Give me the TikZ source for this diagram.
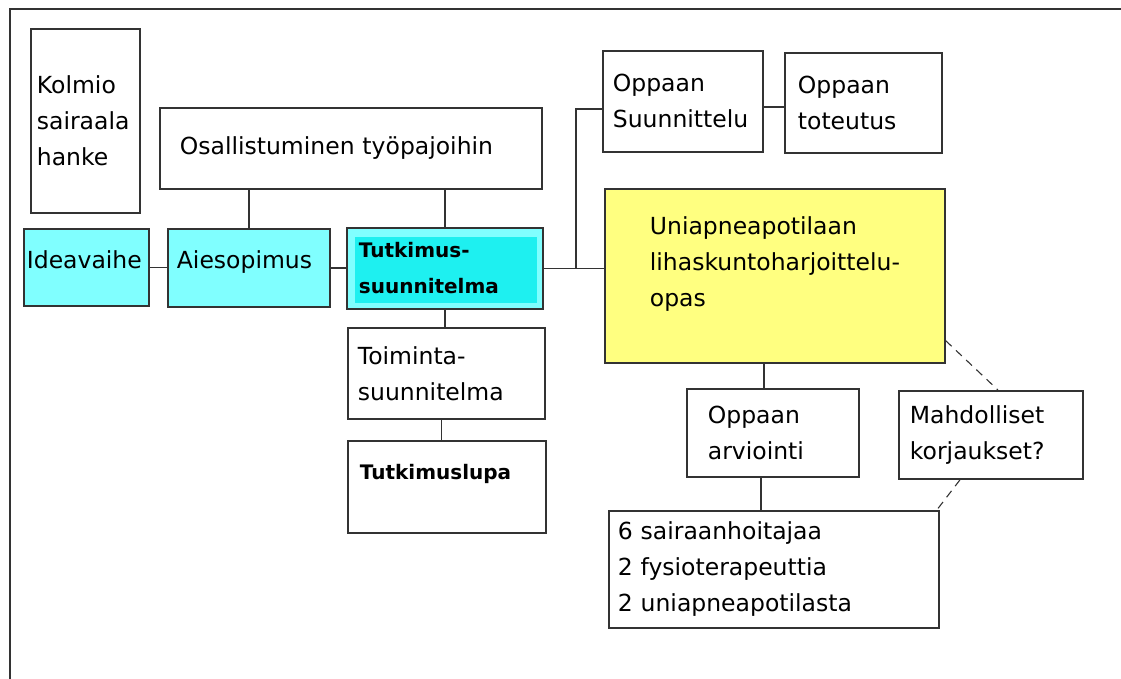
\documentclass[tikz,border=0pt]{standalone}
\usepackage{fontspec}
\setmainfont{DejaVu Sans}
\usetikzlibrary{positioning,calc}
\definecolor{LightCyan}{HTML}{80FFFF}
\definecolor{DeepCyan}{HTML}{1EF0F0}
\definecolor{PaleYellow}{HTML}{FFFF80}
\definecolor{LineGray}{HTML}{333333}
\hyphenpenalty=10000
\exhyphenpenalty=10000
% empty last line that lifts the text inside its box
\newcommand{\liftby}[1]{\\[-#1]\mbox{}}

\begin{document}
\begin{tikzpicture}[
  x=1pt, y=-1pt,
  blk/.style={draw=LineGray, line width=1.8pt, anchor=north west,
              inner xsep=0pt, inner ysep=0pt, align=left,
              font=\fontsize{23.5}{36}\selectfont},
  heavy/.style={font=\fontsize{20}{36}\selectfont\bfseries},
  lnk/.style={draw=LineGray, line width=1.8pt},
  dsh/.style={draw=LineGray, line width=1.1pt, dash pattern=on 8pt off 6pt}
]
\useasboundingbox (0,0) rectangle (1121,679);
\draw[line width=2.2pt, draw=LineGray] (10,679) -- (10,9) -- (1121,9);

\node[blk, minimum width=109pt, minimum height=184pt, text width=97pt]  (kolmio) at (30,28)   {Kolmio\\sairaala\\hanke};
\node[blk, minimum width=382pt, minimum height=81pt,  text width=342pt] (osall)  at (159,107) {Osallistuminen työpajoihin};
\node[blk, fill=LightCyan, minimum width=125pt, minimum height=77pt, text width=119pt] (idea) at (23,228) {Ideavaihe\liftby{21pt}};
\node[blk, fill=LightCyan, minimum width=162pt, minimum height=78pt, text width=144pt] (aies) at (167,228) {Aiesopimus\liftby{19pt}};
\node[blk, heavy, fill=LightCyan, minimum width=196pt, minimum height=81pt, text width=172pt,
      path picture={\fill[DeepCyan] ([shift={(8pt,-9pt)}]path picture bounding box.north west)
        rectangle ([shift={(-6pt,6pt)}]path picture bounding box.south east);}]
      (tutsu) at (346,227) {Tutkimus-\\suunnitelma};
\node[blk, minimum width=197pt, minimum height=91pt,  text width=177pt] (toim)   at (347,327) {Toiminta-\\suunnitelma};
\node[blk, heavy, minimum width=198pt, minimum height=92pt, text width=174pt] (lupa) at (347,440) {Tutkimuslupa\liftby{5pt}};

\node[blk, minimum width=160pt, minimum height=101pt, text width=140pt] (osuun)  at (602,50)  {Oppaan\\Suunnittelu};
\node[blk, minimum width=157pt, minimum height=100pt, text width=131pt] (otot)   at (784,52)  {Oppaan\\toteutus};
\node[blk, fill=PaleYellow, minimum width=340pt, minimum height=174pt, text width=250pt] (opas) at (604,188)
      {Uniapneapotilaan\\lihaskuntoharjoittelu-\\opas\liftby{7pt}};
\node[blk, minimum width=172pt, minimum height=88pt,  text width=130pt] (arv)    at (686,388) {Oppaan\\arviointi};
\node[blk, minimum width=184pt, minimum height=88pt,  text width=162pt] (mahd)   at (898,390) {Mahdolliset\\korjaukset?};
\node[blk, minimum width=330pt, minimum height=117pt, text width=312pt] (hoit)   at (608,510)
      {6 sairaanhoitajaa\\2 fysioterapeuttia\\2 uniapneapotilasta};

% solid links
\draw[lnk] (idea.east) -- (aies.west |- idea.east);
\draw[lnk] (aies.east) -- (tutsu.west |- aies.east);
\draw[lnk] (osall.south -| aies.north) -- (aies.north);
\draw[lnk] (osall.south -| tutsu.north) -- (tutsu.north);
\coordinate (jn) at ($(tutsu.east)+(32,0)$);
\draw[lnk] (tutsu.east) -- (opas.west |- tutsu.east);
\draw[lnk] (jn) |- ([yshift=-7.5pt]osuun.west);
\draw[lnk] ([yshift=-6pt]osuun.east) -- ([yshift=-6pt]otot.west |- osuun.east);
\draw[lnk] (tutsu.south) -- (tutsu.south |- toim.north);
\draw[lnk] ([xshift=-5pt]toim.south) -- ([xshift=-5pt]toim.south |- lupa.north);
\draw[lnk] ([xshift=-11pt]opas.south) -- ([xshift=-11pt]opas.south |- arv.north);
\draw[lnk] ([xshift=-12pt]arv.south) -- ([xshift=-12pt]arv.south |- hoit.north);

% dashed links
\draw[dsh] ([yshift=23pt]opas.south east) -- ([xshift=7pt]mahd.north);
\draw[dsh] ([xshift=62pt]mahd.south west) -- ([xshift=-3pt]hoit.north east);
\end{tikzpicture}
\end{document}
